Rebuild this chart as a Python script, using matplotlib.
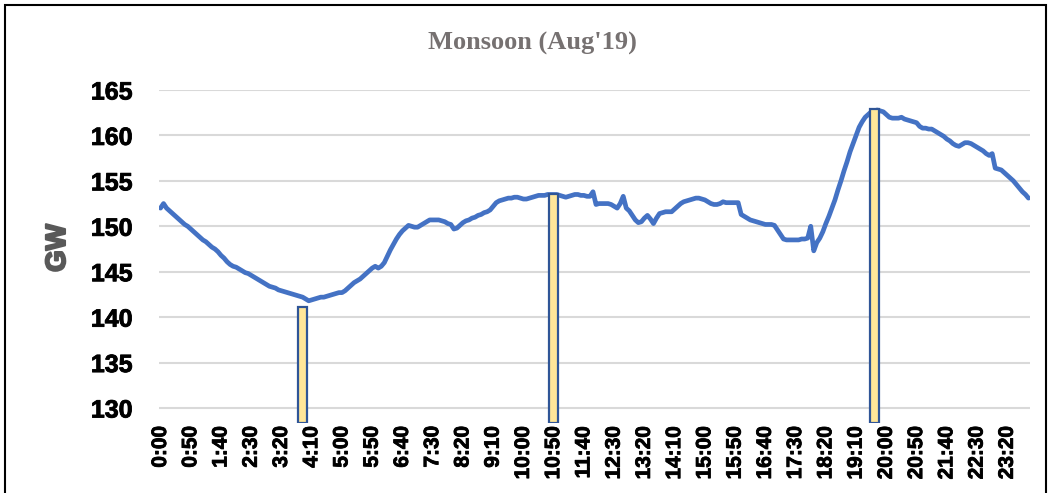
import matplotlib
matplotlib.use("Agg")
import matplotlib.pyplot as plt
import matplotlib.patheffects as pe
from matplotlib.patches import Rectangle

# demand in GW, one row per hour, 5-minute steps
demand = [
    152.0, 152.5, 152.0, 151.7, 151.4, 151.1, 150.8, 150.5, 150.2, 150.0, 149.7, 149.4,
    149.1, 148.8, 148.5, 148.3, 148.0, 147.7, 147.5, 147.2, 146.8, 146.5, 146.1, 145.8,
    145.6, 145.5, 145.3, 145.1, 144.9, 144.8, 144.6, 144.4, 144.2, 144.0, 143.8, 143.6,
    143.4, 143.3, 143.2, 143.0, 142.9, 142.8, 142.7, 142.6, 142.5, 142.4, 142.3, 142.2,
    142.0, 141.8, 141.9, 142.0, 142.1, 142.2, 142.2, 142.3, 142.4, 142.5, 142.6, 142.7,
    142.7, 142.9, 143.2, 143.5, 143.8, 144.0, 144.2, 144.5, 144.8, 145.1, 145.4, 145.6,
    145.4, 145.6, 146.0, 146.7, 147.4, 148.0, 148.6, 149.1, 149.5, 149.8, 150.1, 150.0,
    149.9, 149.9, 150.1, 150.3, 150.5, 150.7, 150.7, 150.7, 150.7, 150.6, 150.5, 150.3,
    150.2, 149.7, 149.8, 150.1, 150.4, 150.6, 150.7, 150.9, 151.0, 151.2, 151.3, 151.5,
    151.6, 151.8, 152.2, 152.6, 152.8, 152.9, 153.0, 153.1, 153.1, 153.2, 153.2, 153.1,
    153.0, 153.0, 153.1, 153.2, 153.3, 153.4, 153.4, 153.4, 153.5, 153.5, 153.5, 153.5,
    153.4, 153.3, 153.2, 153.3, 153.4, 153.5, 153.5, 153.4, 153.4, 153.3, 153.3, 153.8,
    152.4, 152.5, 152.5, 152.5, 152.5, 152.4, 152.2, 152.0, 152.5, 153.3, 152.0, 151.7,
    151.2, 150.7, 150.4, 150.5, 150.9, 151.2, 150.8, 150.3, 150.9, 151.4, 151.5, 151.6,
    151.6, 151.6, 151.9, 152.2, 152.5, 152.7, 152.8, 152.9, 153.0, 153.1, 153.1, 153.0,
    152.9, 152.7, 152.5, 152.4, 152.4, 152.5, 152.7, 152.6, 152.6, 152.6, 152.6, 152.6,
    151.3, 151.1, 150.9, 150.7, 150.6, 150.5, 150.4, 150.3, 150.2, 150.2, 150.2, 150.1,
    149.6, 149.1, 148.6, 148.5, 148.5, 148.5, 148.5, 148.5, 148.6, 148.6, 148.7, 150.0,
    147.3, 148.2, 148.7, 149.4, 150.3, 151.1, 152.0, 152.9, 154.0, 155.0, 156.1, 157.1,
    158.2, 159.1, 160.0, 160.9, 161.5, 162.0, 162.3, 162.6, 162.7, 162.8, 162.7, 162.6,
    162.3, 162.0, 161.9, 161.9, 161.9, 162.0, 161.8, 161.7, 161.6, 161.5, 161.4, 161.0,
    160.8, 160.8, 160.7, 160.7, 160.5, 160.3, 160.1, 159.9, 159.6, 159.4, 159.1, 158.9,
    158.8, 159.0, 159.2, 159.2, 159.1, 158.9, 158.7, 158.5, 158.3, 158.0, 157.8, 158.0,
    156.4, 156.3, 156.2, 155.9, 155.6, 155.3, 155.0, 154.6, 154.2, 153.8, 153.5, 153.1,
]
minutes = [5 * i for i in range(len(demand))]

# marker bars (time in minutes, value in GW)
bar_minutes = [235, 650, 1180]
bar_values = [141.1, 153.5, 162.9]

y_ticks = [130, 135, 140, 145, 150, 155, 160, 165]
ybottom = 128.35

fig = plt.figure(figsize=(10.51, 4.93), dpi=100)
ax = fig.add_axes([159 / 1051, 70 / 493, (1030 - 159) / 1051, 333 / 493])

ax.plot(minutes, demand, color="#4472C4", lw=3.4, solid_capstyle="round", zorder=3)
ax.bar(bar_minutes, [v - ybottom for v in bar_values], bottom=ybottom, width=15,
       color="#FFE699", edgecolor="#2F5597", lw=1.6, zorder=4)

ax.set_xlim(-2.5, 1437.5)
ax.set_ylim(ybottom, 165)
ax.set_yticks(y_ticks)
ax.yaxis.grid(True, color="#D9D9D9", lw=1.5)
ax.set_axisbelow(True)
for s in ax.spines.values():
    s.set_visible(False)

heavy = [pe.withStroke(linewidth=0.6, foreground="black")]
xt = list(range(0, 1401, 50))
ax.set_xticks(xt)
ax.set_xticklabels([f"{m // 60}:{m % 60:02d}" for m in xt], rotation=90,
                   fontsize=15, fontweight="bold", family="Liberation Sans",
                   path_effects=heavy)
ax.tick_params(axis="x", length=0, pad=2)
ax.tick_params(axis="y", length=0, pad=19)
for t in ax.get_yticklabels():
    t.set_fontsize(18)
    t.set_fontweight("bold")
    t.set_family("Liberation Sans")
    t.set_path_effects(heavy)

fig.text(58 / 1051, 1 - 248 / 493, "GW", rotation=90, ha="center", va="center",
         fontsize=20, fontweight="bold", color="#595959", family="Liberation Sans",
         path_effects=[pe.withStroke(linewidth=1.5, foreground="#595959")])
fig.text(532 / 1051, 1 - 43 / 493, "Monsoon (Aug'19)", ha="center", va="center",
         fontsize=19, fontweight="bold", color="#767171", family="Liberation Serif")

fig.patches.append(Rectangle((5 / 1051, -0.02), 1041 / 1051, 1 - 5 / 493 + 0.02,
                             transform=fig.transFigure, fill=False,
                             edgecolor="black", lw=1.5))

fig.savefig("out.png", dpi=100)
